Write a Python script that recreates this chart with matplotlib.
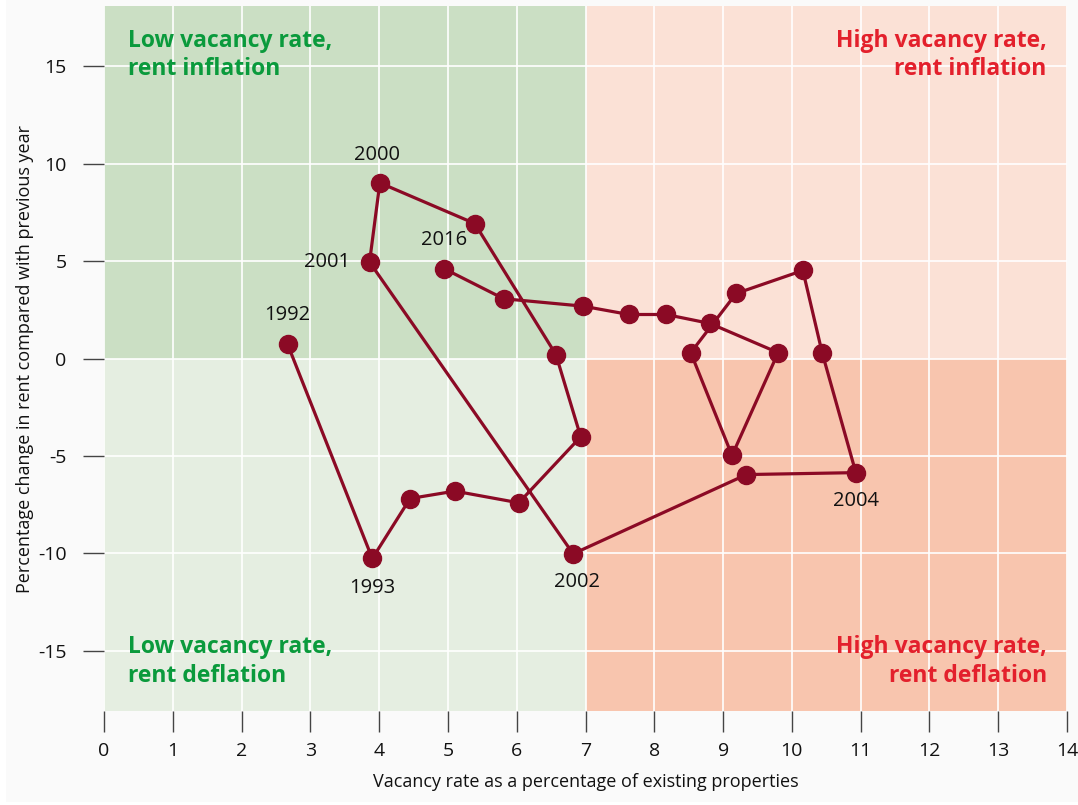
import matplotlib
matplotlib.use("Agg")
import matplotlib.pyplot as plt
from matplotlib.patches import Rectangle

plt.rcParams['font.family'] = ['Open Sans', 'DejaVu Sans']

years = list(range(1992, 2017))
vacancy = [2.67, 3.90, 4.45, 5.10, 6.03, 6.93, 6.57, 5.39, 4.01, 3.86,
           6.82, 9.34, 10.93, 10.44, 10.16, 9.19, 8.53, 9.13, 9.80, 8.81,
           8.17, 7.63, 6.96, 5.81, 4.94]
rent_change = [0.72, -10.27, -7.19, -6.81, -7.41, -4.02, 0.20, 6.93, 9.02, 4.95,
               -10.03, -5.96, -5.86, 0.30, 4.52, 3.34, 0.30, -4.98, 0.30, 1.80,
               2.26, 2.26, 2.69, 3.07, 4.62]
labelled_years = {1992: (0, 14, 'center', 'bottom'),
                  1993: (0, -14, 'center', 'top'),
                  2000: (-2, 13, 'center', 'bottom'),
                  2001: (-14, 0, 'right', 'center'),
                  2002: (3, -13, 'center', 'top'),
                  2004: (0, -13, 'center', 'top'),
                  2016: (0, 13, 'center', 'bottom')}

x_ticks = list(range(0, 15))
y_ticks = [-15, -10, -5, 0, 5, 10, 15]
x_label = "Vacancy rate as a percentage of existing properties"
y_label = "Percentage change in rent compared with previous year"
quadrants = [("Low vacancy rate,\nrent inflation", 'left', 'top'),
             ("High vacancy rate,\nrent inflation", 'right', 'top'),
             ("Low vacancy rate,\nrent deflation", 'left', 'bottom'),
             ("High vacancy rate,\nrent deflation", 'right', 'bottom')]

xmin, xmax, ymin, ymax = 0, 14, -18.1, 18.1
threshold_x, threshold_y = 7, 0

fig = plt.figure(figsize=(10.78, 8.05), dpi=100, facecolor='white')
fig.patches.append(Rectangle((6 / 1078, 3 / 805), 1 - 6 / 1078, 1 - 3 / 805,
                             transform=fig.transFigure, facecolor='#fafafa',
                             edgecolor='none', zorder=-10))
ax = fig.add_axes([0.0965, 0.1168, 0.8933, 0.8757])
ax.set_facecolor('none')
ax.set_xlim(xmin, xmax)
ax.set_ylim(ymin, ymax)

# quadrant fills
ax.fill_between([xmin, threshold_x], threshold_y, ymax, color='#cbdfc4', zorder=0, lw=0)
ax.fill_between([xmin, threshold_x], ymin, threshold_y, color='#e5eee1', zorder=0, lw=0)
ax.fill_between([threshold_x, xmax], threshold_y, ymax, color='#fbe1d6', zorder=0, lw=0)
ax.fill_between([threshold_x, xmax], ymin, threshold_y, color='#f8c5ae', zorder=0, lw=0)

ax.set_xticks(x_ticks)
ax.set_yticks(y_ticks)
ax.set_yticklabels([str(v) for v in y_ticks])
ax.grid(True, color='white', lw=1.2, zorder=1)
ax.set_axisbelow(True)
for s in ax.spines.values():
    s.set_visible(False)
ax.tick_params(axis='both', length=15, width=1, color='#444444',
               labelsize=14, labelcolor='#111111')
ax.tick_params(axis='x', pad=7)
ax.tick_params(axis='y', pad=12)

ax.plot(vacancy, rent_change, color='#8b0a25', lw=2.3, marker='o',
        markersize=13, zorder=3, solid_joinstyle='round')

for yr, (dx, dy, ha, va) in labelled_years.items():
    i = years.index(yr)
    ax.annotate(str(yr), (vacancy[i], rent_change[i]), xytext=(dx, dy),
                textcoords='offset points', ha=ha, va=va, fontsize=14.5,
                color='#111111', zorder=4)

green = '#0a9a3c'
red = '#e3202c'
for text, ha, va in quadrants:
    x = 0.025 if ha == 'left' else 0.979
    y = 0.968 if va == 'top' else 0.033
    col = green if ha == 'left' else red
    ax.text(x, y, text, transform=ax.transAxes, ha=ha, va=va, fontsize=16.5,
            fontweight='bold', color=col, linespacing=1.25, zorder=4,
            multialignment=ha)

ax.set_xlabel(x_label, fontsize=13, color='#111111', labelpad=10)
ax.set_ylabel(y_label, fontsize=13, color='#111111', labelpad=3)

fig.savefig('out.png', dpi=100, facecolor=fig.get_facecolor())
